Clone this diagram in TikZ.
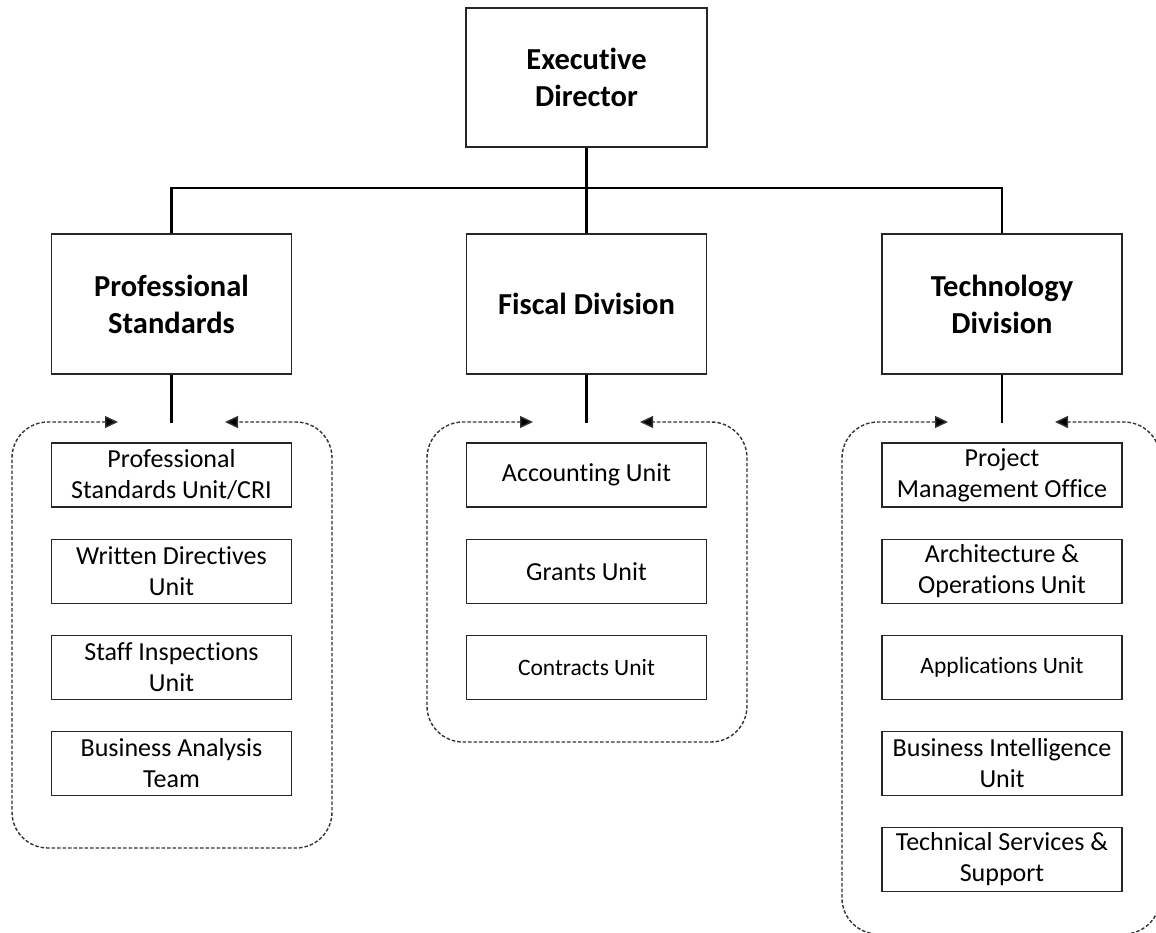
\documentclass[tikz,border=0pt]{standalone}
\usepackage{fontspec}
\setmainfont{Carlito}[Ligatures={NoCommon}]
\usetikzlibrary{arrows.meta}
\begin{document}
\begin{tikzpicture}[x=1pt,y=-1pt,
  divbox/.style={draw=black!85,line width=1.5pt,minimum width=240pt,minimum height=140pt,inner sep=0pt,align=center,
    font=\fontsize{30.5}{37}\selectfont\bfseries},
  unitbox/.style={draw=black!85,line width=1.5pt,minimum width=240pt,minimum height=64pt,inner sep=0pt,align=center,
    font=\fontsize{26}{31}\selectfont},
  smallunit/.style={unitbox,font=\fontsize{23.5}{28}\selectfont},
  conn/.style={line width=2.8pt,black},
  grp/.style={draw=black!80,line width=1.4pt,dash pattern=on 3.5pt off 2pt,rounded corners=36pt,
    {Triangle[length=13pt,width=12pt,fill=black]}-{Triangle[length=13pt,width=12pt,fill=black]}}
]
\useasboundingbox (0,0) rectangle (1156,933);
\fill[white] (0,0) rectangle (1156,933);

% top level
\node[divbox,minimum width=241pt,minimum height=139pt] (ed) at (586.5,77.5) {Executive\\Director};
\node[divbox] (ps) at (171.5,304) {Professional\\Standards};
\node[divbox] (fd) at (586.5,304) {Fiscal Division};
\node[divbox] (td) at (1002,304) {Technology\\Division};

\coordinate (bar) at (586.5,188);
\draw[conn] (ed.south) -- (fd.north);
\draw[conn] (bar) -| (ps.north);
\draw[conn] (bar) -| (td.north);

% stubs
\coordinate (psin) at (171.5,423);
\coordinate (fdin) at (586.5,423);
\coordinate (tdin) at (1002,423);
\draw[conn] (ps.south) -- (psin);
\draw[conn] (fd.south) -- (fdin);
\draw[conn] (td.south) -- (tdin);

% professional standards units
\node[unitbox] (ps1) at (171.5,475) {Professional\\Standards Unit/CRI};
\node[unitbox] (ps2) at (171.5,571.5) {Written Directives\\Unit};
\node[unitbox] (ps3) at (171.5,667.5) {Staff Inspections\\Unit};
\node[unitbox] (ps4) at (171.5,763.5) {Business Analysis\\Team};

% fiscal units
\node[unitbox] (fd1) at (586.5,475) {Accounting Unit};
\node[unitbox] (fd2) at (586.5,571.5) {Grants Unit};
\node[smallunit] (fd3) at (586.5,667.5) {Contracts Unit};

% technology units
\node[unitbox] (td1) at (1002,475) {Project\\Management Office};
\node[unitbox] (td2) at (1002,571.5) {Architecture \&\\Operations Unit};
\node[smallunit] (td3) at (1002,667.5) {Applications Unit};
\node[unitbox] (td4) at (1002,763.5) {Business Intelligence\\Unit};
\node[unitbox] (td5) at (1002,859.5) {Technical Services \&\\Support};

% dashed group outlines with arrows
\coordinate (psL) at (118,422);
\coordinate (psR) at (225,422);
\coordinate (fdL) at (533,422);
\coordinate (fdR) at (640,422);
\coordinate (tdL) at (948,422);
\coordinate (tdR) at (1055,422);

\draw[grp] (psL) -| (12,848) -| (332,422) -- (psR);
\draw[grp] (fdL) -| (427,742) -| (747,422) -- (fdR);
\draw[grp] (tdL) -| (842,934) -| (1160,422) -- (tdR);
\end{tikzpicture}
\end{document}
